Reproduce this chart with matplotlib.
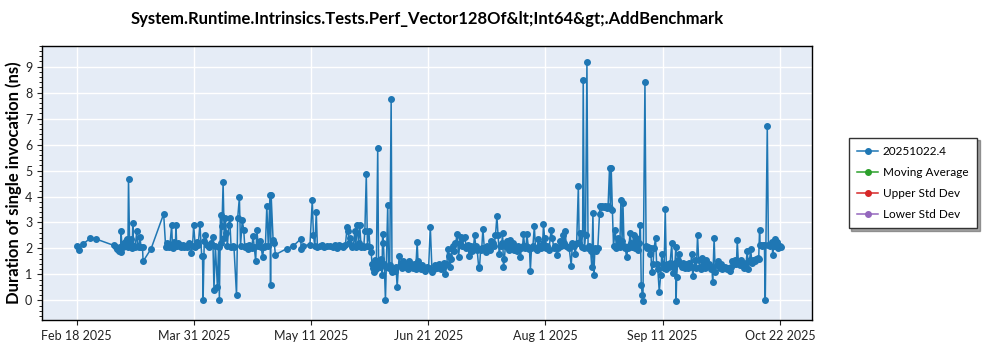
import numpy as np
import pandas as pd
import matplotlib
matplotlib.use("Agg")
from matplotlib import pyplot as plt
from matplotlib.ticker import MultipleLocator

plt.rcParams['font.family'] = ['Lato', 'DejaVu Sans']

title = "System.Runtime.Intrinsics.Tests.Perf_Vector128Of&lt;Int64&gt;.AddBenchmark"
ylabel = "Duration of single invocation (ns)"
legend_labels = ["20251022.4", "Moving Average", "Upper Std Dev", "Lower Std Dev"]
start_date = "2025-02-18"
tick_dates = ["2025-02-18", "2025-03-31", "2025-05-11", "2025-06-21",
              "2025-08-01", "2025-09-11", "2025-10-22"]

# days since Feb 18 2025
days = [
    0.0, 0.9, 2.3, 4.8, 6.6, 12.9, 13.6, 14.0, 14.3, 14.7, 15.0, 15.3, 15.5, 15.8, 16.2, 16.5,
    17.1, 17.5, 17.9, 18.1, 18.5, 19.0, 19.4, 19.6, 19.9, 20.4, 21.0, 21.3, 21.6, 22.1, 22.5,
    23.0, 23.2, 26.0, 30.4, 31.1, 31.4, 31.8, 32.2, 32.6, 33.2, 33.5, 34.0, 34.5, 34.7, 35.0,
    35.5, 36.0, 36.5, 37.0, 37.5, 38.0, 38.7, 39.2, 39.9, 40.5, 40.9, 41.5, 42.0, 42.5, 43.1,
    43.7, 44.0, 44.2, 44.6, 45.0, 45.5, 46.2, 47.0, 47.6, 48.0, 48.5, 49.2, 49.6, 49.9, 50.3,
    50.5, 50.8, 51.2, 51.6, 52.0, 52.3, 52.7, 53.2, 53.5, 54.0, 54.5, 55.0, 55.9, 56.3, 56.9,
    57.3, 57.9, 58.4, 58.8, 59.3, 59.8, 60.3, 60.8, 61.2, 61.7, 62.1, 62.6, 63.0, 63.5, 64.0,
    64.5, 65.0, 65.5, 66.0, 66.5, 67.0, 67.6, 67.8, 68.0, 68.7, 69.1, 69.5, 73.4, 75.7, 78.3,
    78.6, 79.0, 81.6, 82.4, 82.8, 83.3, 83.8, 84.2, 85.0, 85.8, 86.5, 87.5, 88.5, 89.5, 90.3,
    91.0, 91.8, 92.5, 93.3, 94.0, 94.6, 94.9, 95.3, 95.7, 96.2, 96.8, 97.3, 97.6, 98.1, 98.6,
    99.0, 99.5, 100.0, 100.4, 100.8, 101.3, 101.7, 102.2, 102.6, 103.0, 103.3, 103.6, 103.9,
    104.2, 104.5, 104.8, 105.3, 105.6, 106.0, 106.4, 106.8, 107.0, 107.3, 107.6, 108.0, 108.3,
    108.8, 109.1, 109.5, 110.0, 110.3, 110.8, 111.3, 111.7, 112.1, 112.8, 113.3, 113.8, 114.3,
    114.8, 115.3, 115.8, 116.4, 116.9, 117.5, 118.0, 118.6, 119.1, 119.4, 119.9, 120.4, 120.9,
    121.5, 122.0, 122.6, 123.1, 123.7, 124.3, 124.9, 125.5, 126.2, 126.9, 127.5, 128.2, 128.6,
    129.0, 129.5, 129.8, 130.2, 130.6, 131.0, 131.5, 132.0, 132.5, 133.1, 133.6, 134.0, 134.4,
    134.9, 135.3, 135.8, 136.3, 136.8, 137.3, 137.8, 138.3, 138.8, 139.2, 139.6, 140.1, 140.6,
    140.9, 141.3, 141.7, 142.1, 142.6, 143.1, 143.6, 144.1, 144.6, 145.0, 145.5, 146.0, 146.5,
    147.0, 147.4, 147.8, 148.3, 148.7, 149.0, 149.3, 149.6, 150.0, 150.4, 150.8, 151.3, 151.7,
    152.1, 152.5, 153.0, 153.5, 154.0, 154.5, 155.2, 155.6, 156.0, 156.3, 156.8, 157.2, 157.5,
    158.0, 158.4, 158.7, 159.1, 159.6, 160.1, 160.5, 161.0, 161.5, 162.0, 162.5, 163.0, 163.3,
    163.7, 164.2, 164.7, 165.2, 166.0, 166.4, 166.9, 167.4, 168.0, 168.5, 169.0, 169.5, 170.0,
    170.5, 170.9, 171.3, 171.8, 172.3, 173.0, 173.4, 173.9, 174.4, 174.9, 175.5, 175.8, 176.2,
    176.6, 177.0, 177.2, 177.6, 178.0, 178.5, 178.9, 179.3, 179.8, 180.2, 180.6, 180.9, 181.3,
    181.8, 182.3, 182.9, 183.1, 183.5, 183.9, 184.3, 184.7, 185.1, 185.5, 185.9, 186.4, 186.7,
    187.0, 187.4, 187.8, 188.4, 188.8, 189.2, 189.6, 190.0, 190.4, 190.8, 191.1, 191.5, 191.9,
    192.4, 192.8, 193.2, 193.6, 194.0, 194.4, 194.8, 195.2, 195.6, 196.0, 196.4, 196.8, 197.2,
    197.5, 197.9, 198.1, 198.8, 199.2, 199.6, 200.0, 200.4, 200.8, 201.2, 201.6, 202.0, 202.5,
    202.9, 203.3, 203.8, 204.3, 204.7, 205.1, 205.5, 205.9, 206.3, 206.8, 207.2, 207.6, 208.2,
    208.5, 208.9, 209.3, 209.6, 209.7, 209.9, 210.3, 210.8, 211.2, 211.7, 212.2, 212.7, 213.2,
    213.7, 214.2, 214.7, 215.2, 215.5, 215.9, 216.4, 216.8, 217.2, 217.6, 218.0, 218.5, 218.9,
    219.3, 219.8, 220.3, 220.8, 221.3, 221.8, 222.2, 222.5, 223.0, 223.4, 223.9, 224.4, 224.9,
    225.4, 225.9, 226.4, 226.9, 227.4, 227.9, 228.4, 228.9, 229.4, 229.9, 230.4, 230.8, 231.1,
    231.5, 231.9, 232.4, 232.9, 233.4, 233.8, 234.2, 234.6, 235.0, 235.4, 235.8, 236.2, 236.7,
    237.2, 237.7, 238.2, 238.6, 238.9, 239.1, 239.5, 239.9, 240.3, 240.6, 240.9, 241.6, 242.0,
    242.4, 242.9, 243.3, 243.5, 243.9, 244.3, 244.7, 245.1, 245.5, 245.9, 246.3,
]

duration_ns = [
    2.10, 1.95, 2.18, 2.40, 2.37, 2.12, 2.05, 1.98, 2.00, 1.92, 2.05, 1.88, 2.66, 2.10, 2.05, 2.20,
    2.30, 2.37, 2.05, 4.69, 2.10, 2.35, 2.02, 2.98, 2.10, 2.05, 2.66, 2.08, 2.05, 2.44, 2.05,
    2.05, 1.50, 1.99, 3.33, 2.06, 2.20, 2.10, 2.05, 2.15, 2.89, 2.02, 2.25, 2.10, 2.89, 2.08,
    2.22, 2.12, 2.05, 2.15, 2.05, 2.10, 2.05, 2.22, 1.82, 2.10, 2.89, 2.05, 2.25, 2.15, 2.95,
    1.72, 1.72, 0.00, 2.30, 2.53, 2.15, 2.05, 2.20, 2.44, 0.42, 2.10, 0.53, 2.05, 0.00, 3.30,
    2.20, 2.85, 4.54, 2.40, 3.17, 2.60, 2.10, 2.90, 3.17, 2.05, 2.10, 2.05, 0.19, 3.17, 3.97,
    2.10, 3.08, 2.73, 2.05, 2.10, 1.98, 2.15, 2.05, 2.00, 2.48, 2.05, 1.51, 2.72, 2.10, 2.30,
    2.05, 1.69, 2.05, 2.10, 3.64, 2.10, 4.07, 0.60, 4.07, 2.31, 2.20, 1.76, 1.99, 2.09, 2.36,
    1.99, 2.10, 2.15, 3.88, 2.50, 2.10, 3.40, 2.05, 2.10, 2.15, 2.05, 2.10, 2.08, 2.05, 2.12,
    2.02, 2.15, 2.10, 2.05, 2.15, 2.83, 2.66, 2.20, 2.41, 2.05, 2.10, 2.68, 2.05, 2.89, 2.20,
    2.89, 2.05, 2.10, 2.05, 2.68, 4.85, 2.10, 2.68, 2.05, 1.88, 1.41, 1.25, 1.09,
    1.35, 1.55, 1.20, 5.88, 1.45, 1.30, 1.60, 0.96, 2.54, 2.20, 1.40, 0.00, 1.30,
    3.69, 1.25, 1.35, 7.75, 1.10, 1.20, 1.15, 1.30, 0.51, 1.71, 1.40, 1.25, 1.50,
    1.30, 1.35, 1.20, 1.50, 1.30, 1.25, 1.40, 1.20, 2.25, 1.50, 1.30, 1.20, 1.35,
    1.25, 1.15, 1.30, 1.25, 2.83, 1.11, 1.20, 1.35, 1.25, 1.40, 1.20, 1.30, 1.45,
    1.02, 1.40, 1.99, 1.70, 1.30, 1.60, 2.10, 1.90, 2.20, 2.54, 1.67, 2.20, 2.45,
    2.10, 2.40, 2.45, 2.00, 2.15, 1.70, 2.10, 1.90, 2.05, 2.50, 2.10, 1.95, 1.30,
    1.24, 1.95, 2.00, 2.75, 2.00, 1.85, 2.10, 2.00, 1.95, 2.30, 2.20, 2.10, 2.50,
    3.24, 2.50, 1.80, 2.10, 2.20, 2.59, 1.28, 1.60, 2.10, 2.30, 2.05, 1.95, 2.31,
    2.00, 2.20, 1.95, 2.05, 1.90, 2.10, 1.67, 2.00, 2.10, 2.54, 2.00, 2.10, 2.54,
    2.05, 1.98, 1.15, 2.00, 2.10, 2.86, 2.00, 1.95, 2.35, 2.10, 2.00, 2.20, 2.93,
    2.40, 2.00, 2.10, 1.95, 2.73, 2.40, 2.00, 2.10, 1.73, 2.00, 2.30, 2.10, 2.50,
    2.20, 2.66, 2.10, 2.05, 2.00, 1.34, 2.20, 2.10, 1.80, 2.20, 4.41, 2.20, 2.60,
    2.05, 2.60, 8.50, 2.00, 2.50, 9.16, 2.00, 2.10, 1.90, 1.28, 3.37, 0.96, 2.00,
    1.90, 2.00, 3.34, 3.64, 3.60, 3.64, 3.58, 3.62, 3.60, 3.56, 3.64, 5.08, 3.55,
    5.08, 3.50, 2.10, 2.73, 2.00, 2.40, 2.20, 2.05, 3.85, 2.30, 3.76, 2.10, 2.00,
    1.67, 2.00, 2.10, 2.60, 2.20, 2.05, 2.50, 2.00, 2.40, 2.10, 1.95, 2.20, 2.89,
    0.60, 0.19, -0.03, 8.41, 2.10, 2.00, 2.05, 1.80, 2.00, 1.09, 1.40, 2.00, 2.40,
    1.40, 1.20, 0.34, 0.96, 1.80, 1.40, 1.25, 3.52, 1.20, 1.40, 1.30, 1.45, 2.21,
    1.05, 1.30, 1.45, 2.04, -0.03, 0.90, 1.55, 1.80, 1.40, 1.30, 1.45, 1.25, 1.40,
    1.25, 1.45, 1.30, 1.80, 0.93, 1.30, 1.55, 1.25, 2.50, 1.55, 1.30, 1.20, 1.65,
    1.40, 1.25, 1.55, 1.35, 1.40, 1.20, 1.30, 0.69, 2.40, 1.10, 1.35, 1.50, 1.25,
    1.40, 1.20, 1.25, 1.30, 1.20, 1.25, 1.15, 1.30, 1.50, 1.40, 1.55, 1.40, 2.31,
    1.45, 1.35, 1.55, 1.40, 1.25, 1.35, 1.45, 1.92, 1.20, 1.55, 1.99, 1.45, 1.55,
    1.50, 1.60, 1.65, 1.60, 2.72, 2.12, 2.12, 2.10, 2.15, 2.12, 0.00, 6.73, 2.12,
    2.10, 2.12, 2.25, 1.73, 2.10, 2.38, 2.10, 2.25, 2.00, 2.10, 2.05,
]

moving_average = []
upper_std = []
lower_std = []

dates = pd.Timestamp(start_date) + pd.to_timedelta(days, unit="D")

fig = plt.figure(figsize=(10, 3.5), dpi=100)
ax = fig.add_axes([0.042, 0.086, 0.770, 0.783])
ax.set_facecolor("#e5ecf6")

ax.plot(dates, duration_ns, color="#1f77b4", lw=1.1, marker="o", ms=4,
        label=legend_labels[0])
ax.plot([], [], color="#2ca02c", lw=1.1, marker="o", ms=4, label=legend_labels[1])
ax.plot([], [], color="#d62728", lw=1.1, marker="o", ms=4, label=legend_labels[2])
ax.plot([], [], color="#9467bd", lw=1.1, marker="o", ms=4, label=legend_labels[3])

ax.set_xlim(pd.Timestamp("2025-02-05 20:00"), pd.Timestamp("2025-11-02 06:00"))
ax.set_ylim(-0.75, 9.8)
ticks = pd.to_datetime(tick_dates)
ax.set_xticks(ticks)
ax.set_xticklabels([f"{d:%b} {d.day} {d.year}" for d in ticks])
ax.set_yticks(range(0, 10))
ax.yaxis.set_minor_locator(MultipleLocator(0.2))
ax.grid(True, color="white", lw=1.0)
ax.set_axisbelow(True)
ax.tick_params(axis="both", labelsize=9, colors="#222222")
ax.tick_params(axis="y", which="minor", length=2)

for s in ax.spines.values():
    s.set_color("black")
    s.set_linewidth(1.0)

ax.set_title(title, fontsize=12, fontweight="bold", pad=16)
ax.set_ylabel(ylabel, fontsize=12, fontweight="bold", labelpad=2)

leg = ax.legend(loc="center left", bbox_to_anchor=(1.04, 0.5), fontsize=8.5,
                frameon=True, fancybox=False, shadow=True, borderpad=0.7,
                labelspacing=0.85, handlelength=1.8, handletextpad=0.4)
leg.get_frame().set_edgecolor("#333333")

fig.savefig("out.png", dpi=100)
